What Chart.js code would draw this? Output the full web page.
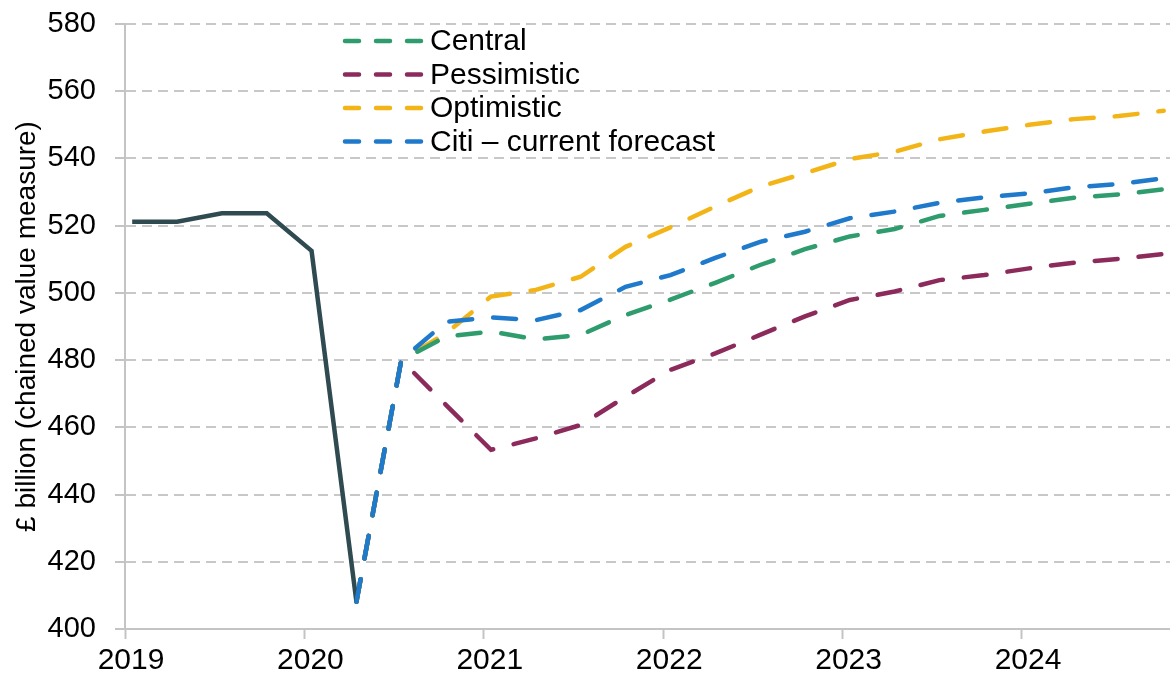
<!DOCTYPE html>
<html>
<head>
<meta charset="utf-8">
<script src="https://cdn.jsdelivr.net/npm/chart.js@4.4.1/dist/chart.umd.min.js"></script>
<style>
    html, body { margin: 0; padding: 0; background: #fff; }
    #wrap { width: 1170px; height: 678px; }
</style>
</head>
<body>
<div id="wrap"><canvas id="gdpChart"></canvas></div>
<script>
// --- Data (GDP, £ billion, quarterly) ---
const quarters = [
    '2019 Q1', '2019 Q2', '2019 Q3', '2019 Q4',
    '2020 Q1', '2020 Q2', '2020 Q3', '2020 Q4',
    '2021 Q1', '2021 Q2', '2021 Q3', '2021 Q4',
    '2022 Q1', '2022 Q2', '2022 Q3', '2022 Q4',
    '2023 Q1', '2023 Q2', '2023 Q3', '2023 Q4',
    '2024 Q1', '2024 Q2', '2024 Q3', '2024 Q4'
];
const yearTicks = [2019, 2020, 2021, 2022, 2023, 2024];

// outturn runs 2019 Q1 - 2020 Q2
const outturn = [521.2, 521.2, 523.7, 523.7, 512.5, 408.1];

// scenarios run 2020 Q2 - 2024 Q4
const forecastStart = 5;
const central     = [408.1, 480.0, 487.0, 488.5, 486.2, 487.5, 493.4, 498.0, 503.0, 508.3, 513.0, 516.8, 519.0, 522.9, 524.7, 526.5, 528.3, 529.3, 530.8];
const pessimistic = [408.1, 480.0, 466.6, 453.3, 456.7, 460.7, 469.1, 477.1, 482.0, 487.5, 493.0, 497.9, 500.4, 503.8, 505.3, 507.3, 509.0, 510.1, 511.6];
const optimistic  = [408.1, 480.0, 488.0, 498.9, 500.9, 504.8, 513.7, 519.5, 525.7, 531.6, 535.6, 539.8, 542.0, 545.7, 548.0, 550.0, 551.7, 552.6, 554.2];
const citi        = [408.1, 480.0, 491.4, 492.7, 491.9, 494.9, 501.8, 505.3, 510.4, 515.2, 518.2, 522.2, 524.2, 526.8, 528.4, 529.6, 531.4, 532.4, 534.1];

const FONT = "'Liberation Sans', Arial, sans-serif";

// quarter label -> position on the date axis (in years)
function quarterToX(label) {
    const parts = label.split(' Q');
    return Number(parts[0]) + (Number(parts[1]) - 1) / 4 + 0.04;
}

function toPoints(values, start) {
    return values.map((v, i) => ({ x: quarterToX(quarters[start + i]), y: v }));
}

function dashedSeries(label, values, color, order) {
    return {
        label: label,
        data: toPoints(values, forecastStart),
        borderColor: color,
        borderWidth: 4.5,
        borderDash: [23, 21],
        borderCapStyle: 'round',
        pointRadius: 0,
        tension: 0,
        order: order
    };
}

// --- Legend drawn inside the plot, top-left ---
const insideLegend = {
    id: 'insideLegend',
    afterDatasetsDraw(chart) {
        const ctx = chart.ctx;
        let y = 41;
        ctx.save();
        chart.data.datasets.forEach(ds => {
            if (ds.hideInLegend) {
                return;
            }
            ctx.strokeStyle = ds.borderColor;
            ctx.lineWidth = 4.5;
            ctx.lineCap = 'round';
            ctx.setLineDash([14, 17]);
            ctx.beginPath();
            ctx.moveTo(345, y);
            ctx.lineTo(421, y);
            ctx.stroke();
            ctx.setLineDash([]);
            ctx.fillStyle = '#000';
            ctx.font = '30px ' + FONT;
            ctx.textBaseline = 'middle';
            ctx.fillText(ds.label, 430, y + 1);
            y += 33.5;
        });
        ctx.restore();
    }
};

const ctx = document.getElementById('gdpChart').getContext('2d');
new Chart(ctx, {
    type: 'line',
    data: {
        datasets: [
            dashedSeries('Central', central, '#2e9c6c', 2),
            dashedSeries('Pessimistic', pessimistic, '#8c2a5c', 2),
            dashedSeries('Optimistic', optimistic, '#f3b417', 2),
            dashedSeries('Citi \u2013 current forecast', citi, '#1f7acc', 0),
            {
                label: 'Outturn',
                hideInLegend: true,
                data: toPoints(outturn, 0),
                borderColor: '#2f4a50',
                borderWidth: 4.5,
                pointRadius: 0,
                tension: 0,
                order: 1
            }
        ]
    },
    options: {
        responsive: true,
        maintainAspectRatio: false,
        animation: false,
        layout: { padding: { top: 24, right: 0, left: 0, bottom: 0 } },
        plugins: {
            legend: { display: false },
            tooltip: { enabled: false }
        },
        scales: {
            x: {
                type: 'linear',
                min: 2019,
                max: 2024.825,
                afterBuildTicks: (scale) => {
                    scale.ticks = yearTicks.map(v => ({ value: v }));
                },
                afterFit: (scale) => {
                    scale.height = 49;
                    scale.paddingLeft = 0;
                    scale.paddingRight = 0;
                },
                grid: {
                    drawOnChartArea: false,
                    drawTicks: true,
                    tickLength: 10,
                    tickColor: '#c4c4c4',
                    tickWidth: 2
                },
                border: { display: true, color: '#c4c4c4', width: 2 },
                ticks: {
                    color: '#000',
                    font: { family: FONT, size: 30 },
                    padding: 4,
                    labelOffset: 6,
                    maxRotation: 0,
                    callback: (v) => String(v)
                }
            },
            y: {
                min: 400,
                max: 580,
                afterFit: (scale) => {
                    scale.width = 125;
                    scale.paddingTop = 0;
                    scale.paddingBottom = 0;
                },
                ticks: {
                    stepSize: 20,
                    color: '#000',
                    font: { family: FONT, size: 29 },
                    padding: 19
                },
                grid: {
                    color: '#c8c8c8',
                    lineWidth: 2,
                    drawTicks: true,
                    tickLength: 10,
                    tickColor: '#c4c4c4',
                    tickWidth: 2,
                    tickBorderDash: []
                },
                border: { display: true, color: '#c4c4c4', width: 2, dash: [10, 6] },
                title: {
                    display: true,
                    text: '\u00a3 billion (chained value measure)',
                    color: '#000',
                    font: { family: FONT, size: 28 },
                    padding: { top: 10, bottom: 0 }
                }
            }
        }
    },
    plugins: [insideLegend]
});
</script>
</body>
</html>
